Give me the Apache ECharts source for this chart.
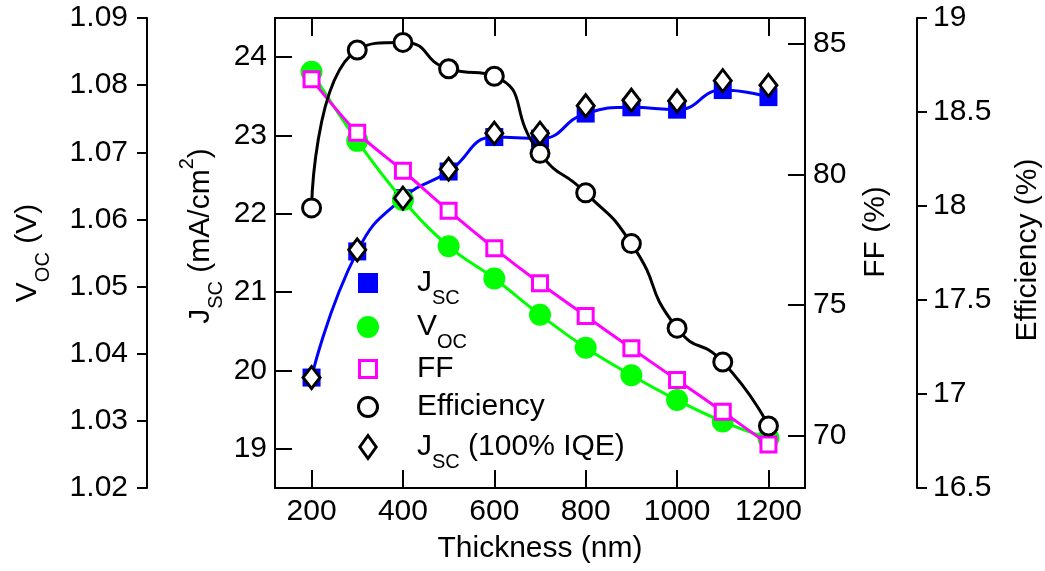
<!DOCTYPE html>
<html><head><meta charset="utf-8">
<script src="https://cdn.jsdelivr.net/npm/echarts@6/dist/echarts.min.js"></script>
<style>html,body{margin:0;padding:0;background:#fff}#c{width:1045px;height:571px}</style>
</head><body><div id="c"></div>
<script>
// ---- data ----
const thickness = [200, 300, 400, 500, 600, 700, 800, 900, 1000, 1100, 1200];
const jsc     = [19.91, 21.52, 22.20, 22.54, 22.98, 22.96, 23.28, 23.36, 23.33, 23.58, 23.49];
const jscIQE  = [19.91, 21.54, 22.20, 22.57, 23.03, 23.03, 23.38, 23.45, 23.44, 23.70, 23.64];
const voc     = [1.0820, 1.0717, 1.0629, 1.0560, 1.0512, 1.0458, 1.0409, 1.0368, 1.0331, 1.0299, 1.0274];
const ff      = [83.65, 81.61, 80.15, 78.62, 77.18, 75.84, 74.59, 73.35, 72.14, 70.92, 69.67];
const eff     = [17.99, 18.83, 18.87, 18.73, 18.69, 18.28, 18.07, 17.80, 17.35, 17.17, 16.83];
const xTicks   = [200, 400, 600, 800, 1000, 1200];
const jscTicks = [19, 20, 21, 22, 23, 24];
const ffTicks  = [70, 75, 80, 85];
const vocTicks = [1.02, 1.03, 1.04, 1.05, 1.06, 1.07, 1.08, 1.09];
const effTicks = [16.5, 17, 17.5, 18, 18.5, 19];
const seriesNames = ['JSC', 'VOC', 'FF', 'Efficiency', 'JSC (100% IQE)'];

// ---- chart ----
const FONT = '"Liberation Sans", Arial, sans-serif';
const FS = 30;
const BLACK = '#000';
const zip = ys => thickness.map((x, i) => [x, ys[i]]);

function yAx(pos, offset, min, max, ticks, inside, margin, fmt) {
  return {
    type: 'value', position: pos, offset: offset, min: min, max: max,
    axisLine: { show: true, onZero: false, lineStyle: { color: BLACK, width: 2 } },
    axisTick: { show: true, inside: inside, length: inside ? 17 : 10, customValues: ticks,
                lineStyle: { color: BLACK, width: 2 } },
    axisLabel: { show: true, customValues: ticks, margin: margin, color: BLACK, fontSize: FS,
                 fontFamily: FONT, formatter: fmt || (v => String(v)) },
    splitLine: { show: false }
  };
}

const subStyle = { fontSize: 20, lineHeight: 20, padding: [30, 0, 0, 0], fontFamily: FONT, color: BLACK, fill: BLACK };
const supStyle = { fontSize: 20, lineHeight: 20, padding: [0, 0, 28, 0], fontFamily: FONT, color: BLACK, fill: BLACK };

const legendText = {
  'JSC': 'J{sub|SC}',
  'VOC': 'V{sub|OC}',
  'FF': 'FF',
  'Efficiency': 'Efficiency',
  'JSC (100% IQE)': 'J{sub|SC} (100% IQE)'
};

const SQ = 'path://M0,0L10,0L10,10L0,10Z';
const DIA = 'path://M10,0L20,14L10,28L0,14Z';
const legendCfg = [
  { icon: SQ, h: 20, w: 20, cy: 283, bw: 0 },
  { icon: 'circle', h: 22, w: 22, cy: 327, bw: 0 },
  { icon: SQ, h: 17, w: 17, cy: 369, bw: 3 },
  { icon: 'circle', h: 19, w: 19, cy: 407, bw: 3 },
  { icon: DIA, h: 23, w: 23 * 20 / 28, cy: 447, bw: 3 }
];
const legends = legendCfg.map((c, i) => ({
  orient: 'vertical', padding: 0, selectedMode: false,
  left: 368 - (c.w + c.bw) / 2, top: c.cy - 25,
  itemWidth: 88, itemHeight: c.h,
  itemStyle: { borderWidth: c.bw },
  data: [{ name: seriesNames[i], icon: c.icon }],
  formatter: n => legendText[n],
  textStyle: { color: BLACK, fontSize: FS, fontFamily: FONT, lineHeight: 50,
               rich: { sub: subStyle } }
}));

function title(text, x, y, rot) {
  return {
    type: 'text', x: x, y: y, rotation: rot,
    style: { text: text, fontSize: FS, fontFamily: FONT, fill: BLACK, align: 'center',
             verticalAlign: 'middle', lineHeight: 50, rich: { sub: subStyle, sup: supStyle } }
  };
}

const option = {
  animation: false,
  backgroundColor: '#fff',
  grid: { left: 275, right: 240, top: 18, bottom: 83, containLabel: false, outerBoundsMode: 'none' },
  xAxis: [
    { type: 'value', position: 'bottom', min: 120, max: 1280,
      axisLine: { show: true, onZero: false, lineStyle: { color: BLACK, width: 2 } },
      axisTick: { show: true, inside: true, length: 18, customValues: xTicks, lineStyle: { color: BLACK, width: 2 } },
      axisLabel: { show: true, customValues: xTicks, margin: 9, color: BLACK, fontSize: FS, fontFamily: FONT,
                   formatter: v => String(v) },
      splitLine: { show: false } },
    { type: 'value', position: 'top', min: 120, max: 1280,
      axisLine: { show: true, onZero: false, lineStyle: { color: BLACK, width: 2 } },
      axisTick: { show: true, inside: true, length: 18, customValues: xTicks, lineStyle: { color: BLACK, width: 2 } },
      axisLabel: { show: false },
      splitLine: { show: false } }
  ],
  yAxis: [
    yAx('left', 0, 18.5, 24.5, jscTicks, true, 8),
    yAx('right', 0, 68, 86, ffTicks, true, 8),
    yAx('left', 128, 1.02, 1.09, vocTicks, false, 19, v => v.toFixed(2)),
    yAx('right', 112, 16.5, 19, effTicks, false, 16)
  ],
  legend: legends,
  series: [
    { name: seriesNames[0], type: 'line', yAxisIndex: 0, data: zip(jsc), smooth: 0.5, z: 2,
      symbol: 'rect', symbolSize: 18,
      itemStyle: { color: '#0000ff' }, lineStyle: { color: '#0000ff', width: 3 } },
    { name: seriesNames[1], type: 'line', yAxisIndex: 2, data: zip(voc), smooth: 0.4, z: 3,
      symbol: 'circle', symbolSize: 22,
      itemStyle: { color: '#00ff00' }, lineStyle: { color: '#00ff00', width: 3 } },
    { name: seriesNames[2], type: 'line', yAxisIndex: 1, data: zip(ff), smooth: 0.3, z: 4,
      symbol: 'rect', symbolSize: 15,
      itemStyle: { color: '#ffffff', borderColor: '#ff00ff', borderWidth: 3 },
      lineStyle: { color: '#ff00ff', width: 3 } },
    { name: seriesNames[3], type: 'line', yAxisIndex: 3, data: zip(eff), smooth: 0.6, z: 5,
      symbol: 'circle', symbolSize: 18,
      itemStyle: { color: '#ffffff', borderColor: BLACK, borderWidth: 3 },
      lineStyle: { color: BLACK, width: 3 } },
    { name: seriesNames[4], type: 'scatter', yAxisIndex: 0, data: zip(jscIQE), z: 6,
      symbol: 'diamond', symbolSize: [17, 22],
      itemStyle: { color: '#ffffff', borderColor: BLACK, borderWidth: 3, opacity: 1 } }
  ],
  graphic: [
    title('V{sub|OC} (V)', 28, 253, Math.PI / 2),
    title('J{sub|SC} (mA/cm{sup|2})', 201, 236, Math.PI / 2),
    title('FF (%)', 876, 232, Math.PI / 2),
    title('Efficiency (%)', 1028, 250, Math.PI / 2),
    title('Thickness (nm)', 540, 549, 0)
  ]
};

const chart = echarts.init(document.getElementById('c'), null, { renderer: 'canvas' });
chart.setOption(option);
</script>
</body></html>
